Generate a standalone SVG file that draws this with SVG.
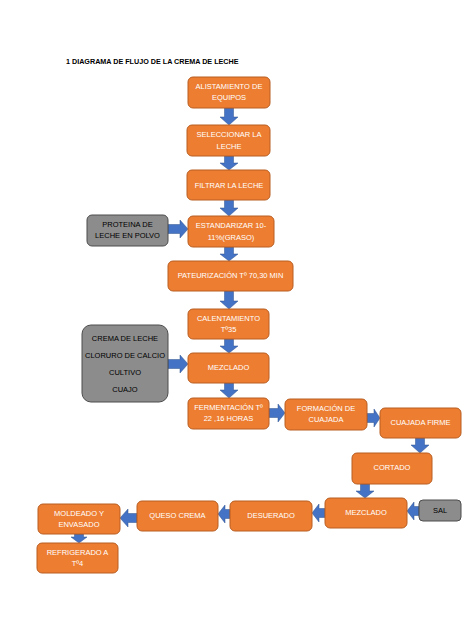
<svg xmlns="http://www.w3.org/2000/svg" width="474" height="632" viewBox="0 0 474 632">
<style>
.o{fill:#ED7D31;stroke:#B85E22;stroke-width:1}
.g{fill:#8C8C8C;stroke:#4D4D4D;stroke-width:1}
.a{fill:#4472C4;stroke:#2F528F;stroke-width:0.5}
text{font-family:"Liberation Sans",Arial,sans-serif;font-size:7.5px;text-anchor:middle;dominant-baseline:middle}
.w{fill:#FFFFFF}
.k{fill:#000000}
.t{font-weight:bold;text-anchor:start;font-size:7.2px;fill:#000}
</style>
<rect width="474" height="632" fill="#FFFFFF"/>
<text class="t" x="66" y="62">1 DIAGRAMA DE FLUJO DE LA CREMA DE LECHE</text>
<g id="connectors">
<polygon class="a" points="224.5,108 233.5,108 233.5,117 238,117 229,125 220,117 224.5,117"/>
<polygon class="a" points="224.5,156 233.5,156 233.5,163 238,163 229,170 220,163 224.5,163"/>
<polygon class="a" points="224.5,200 233.5,200 233.5,208 238,208 229,216 220,208 224.5,208"/>
<polygon class="a" points="168,224.5 180,224.5 180,220 188,229 180,238 180,233.5 168,233.5"/>
<polygon class="a" points="224.5,247 233.5,247 233.5,254 238,254 229,261 220,254 224.5,254"/>
<polygon class="a" points="224.5,291 233.5,291 233.5,301 238,301 229,309 220,301 224.5,301"/>
<polygon class="a" points="224.5,339 233.5,339 233.5,346 238,346 229,353 220,346 224.5,346"/>
<polygon class="a" points="168,359.5 180,359.5 180,355 188,364 180,373 180,368.5 168,368.5"/>
<polygon class="a" points="224.5,383 233.5,383 233.5,390 238,390 229,398 220,390 224.5,390"/>
<polygon class="a" points="269,408.5 278,408.5 278,404 285,413 278,422 278,417.5 269,417.5"/>
<polygon class="a" points="367,413.5 374,413.5 374,409 380,418 374,427 374,422.5 367,422.5"/>
<polygon class="a" points="415.5,438 424.5,438 424.5,445 429,445 420,453 411,445 415.5,445"/>
<polygon class="a" points="360.5,484 369.5,484 369.5,491 374,491 365,498 356,491 360.5,491"/>
<polygon class="a" points="419,506.5 414,506.5 414,502 407,511 414,520 414,515.5 419,515.5"/>
<polygon class="a" points="325,508.5 319,508.5 319,504 312,513 319,522 319,517.5 325,517.5"/>
<polygon class="a" points="230,509.5 225,509.5 225,505 218,514 225,523 225,518.5 230,518.5"/>
<polygon class="a" points="137,513.5 128,513.5 128,509 120,518 128,527 128,522.5 137,522.5"/>
<polygon class="a" points="74.5,534 83.5,534 83.5,537 87,537 79,543 71,537 74.5,537"/>
</g>
<g id="n1"><rect class="o" x="188" y="77" width="82" height="31" rx="5"/><text class="w" x="229" y="87">ALISTAMIENTO DE</text><text class="w" x="229" y="98">EQUIPOS</text></g>
<g id="n2"><rect class="o" x="187" y="125" width="83" height="31" rx="5"/><text class="w" x="229" y="135">SELECCIONAR LA</text><text class="w" x="229" y="147">LECHE</text></g>
<g id="n3"><rect class="o" x="187" y="170" width="83" height="30" rx="5"/><text class="w" x="229" y="186">FILTRAR LA LECHE</text></g>
<g id="n4"><rect class="o" x="188" y="216" width="86" height="31" rx="5"/><text class="w" x="231" y="226">ESTANDARIZAR 10-</text><text class="w" x="231" y="238">11%(GRASO)</text></g>
<g id="n5"><rect class="g" x="87" y="215" width="81" height="31" rx="5"/><text class="k" x="127.5" y="225">PROTEINA DE</text><text class="k" x="127.5" y="236">LECHE EN POLVO</text></g>
<g id="n6"><rect class="o" x="168" y="261" width="125" height="30" rx="5"/><text class="w" x="230.5" y="276">PATEURIZACIÓN Tº 70,30 MIN</text></g>
<g id="n7"><rect class="o" x="188" y="309" width="81" height="30" rx="5"/><text class="w" x="228.5" y="319">CALENTAMIENTO</text><text class="w" x="228.5" y="330">Tº35</text></g>
<g id="n8"><rect class="o" x="188" y="353" width="81" height="30" rx="5"/><text class="w" x="228.5" y="368">MEZCLADO</text></g>
<g id="n9"><rect class="g" x="82" y="325" width="86" height="77" rx="9"/><text class="k" x="125" y="339">CREMA DE LECHE</text><text class="k" x="125" y="356">CLORURO DE CALCIO</text><text class="k" x="125" y="373">CULTIVO</text><text class="k" x="125" y="390">CUAJO</text></g>
<g id="n10"><rect class="o" x="188" y="398" width="81" height="31" rx="5"/><text class="w" x="228.5" y="408">FERMENTACIÓN Tº</text><text class="w" x="228.5" y="419">22 ,16 HORAS</text></g>
<g id="n11"><rect class="o" x="285" y="399" width="82" height="31" rx="5"/><text class="w" x="326" y="409">FORMACIÓN DE</text><text class="w" x="326" y="420">CUAJADA</text></g>
<g id="n12"><rect class="o" x="380" y="408" width="81" height="30" rx="5"/><text class="w" x="420.5" y="423">CUAJADA FIRME</text></g>
<g id="n13"><rect class="o" x="352" y="453" width="80" height="31" rx="5"/><text class="w" x="392" y="468">CORTADO</text></g>
<g id="n14"><rect class="o" x="325" y="498" width="82" height="30" rx="5"/><text class="w" x="366" y="513">MEZCLADO</text></g>
<g id="n15"><rect class="g" x="419" y="500" width="42" height="21" rx="4"/><text class="k" x="440" y="511">SAL</text></g>
<g id="n16"><rect class="o" x="230" y="501" width="82" height="30" rx="5"/><text class="w" x="271" y="516">DESUERADO</text></g>
<g id="n17"><rect class="o" x="137" y="501" width="81" height="30" rx="5"/><text class="w" x="177.5" y="516">QUESO CREMA</text></g>
<g id="n18"><rect class="o" x="38" y="504" width="82" height="30" rx="5"/><text class="w" x="79" y="514">MOLDEADO Y</text><text class="w" x="79" y="525">ENVASADO</text></g>
<g id="n19"><rect class="o" x="37" y="543" width="81" height="30" rx="5"/><text class="w" x="77.5" y="553">REFRIGERADO A</text><text class="w" x="77.5" y="564">Tº4</text></g>
</svg>
